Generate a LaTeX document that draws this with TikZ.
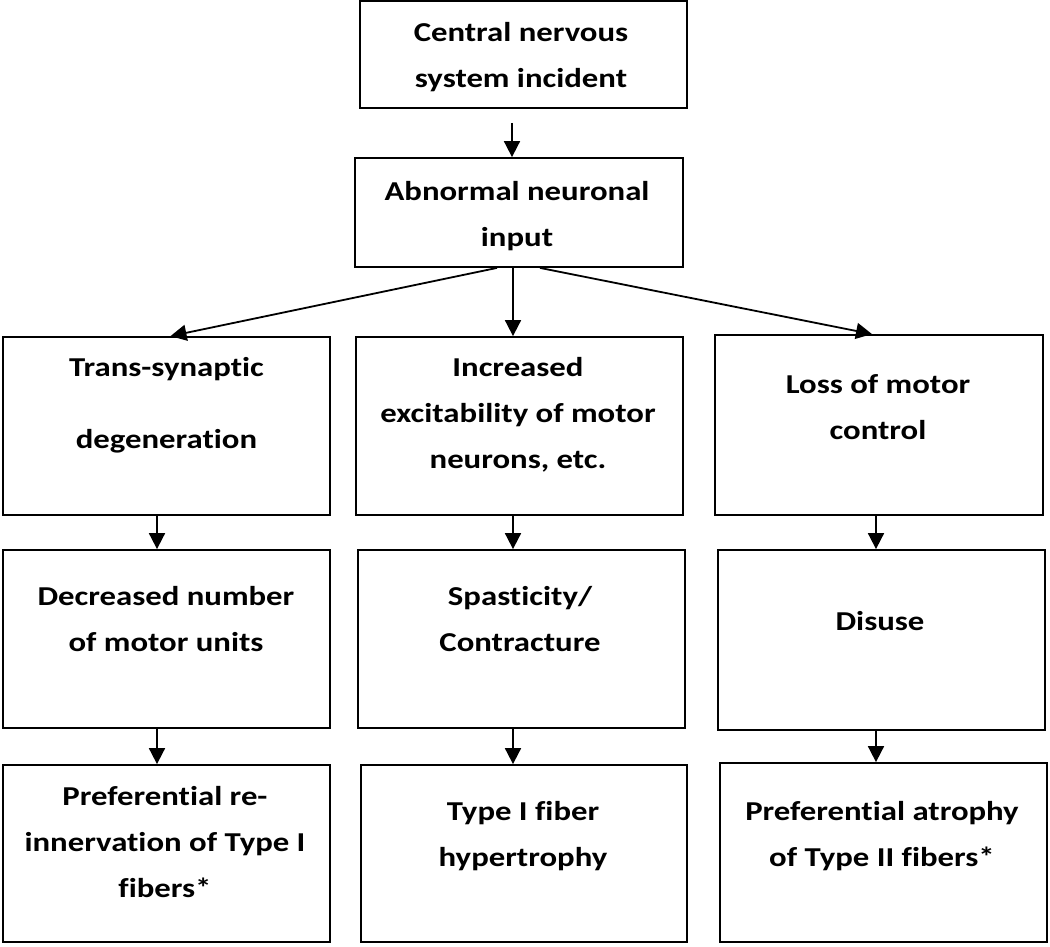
\documentclass[tikz,border=0pt]{standalone}
\usepackage{fontspec}
\setmainfont{Carlito}[FakeStretch=1.2, Ligatures=NoCommon]
\usetikzlibrary{arrows.meta}
\tikzset{
  box/.style={draw, line width=1.8pt, inner sep=0pt, minimum width=327pt, minimum height=178pt},
  txt/.style={anchor=north, inner sep=0pt, align=center, font=\fontsize{27.3}{46}\selectfont\bfseries},
  arr/.style={line width=1.8pt, -{Triangle[width=16pt,length=16pt]}}
}
\newcommand{\fl}{\rule{0pt}{22pt}}
\begin{document}
\begin{tikzpicture}[x=1pt,y=-1pt]
\useasboundingbox (0,0) rectangle (1050,946);
\fill[white] (0,0) rectangle (1050,946);
% boxes
\node[box, minimum height=107pt] (top) at (523.5,54.5) {};
\node[box, minimum width=328pt, minimum height=109pt] (abn) at (519,212.5) {};
\node[box] (r1a) at (166.5,426) {};
\node[box] (r1b) at (519.5,426) {};
\node[box, minimum width=328pt, minimum height=180pt] (r1c) at (879,425) {};
\node[box] (r2a) at (166.5,639) {};
\node[box] (r2b) at (521.5,639) {};
\node[box, minimum height=180pt] (r2c) at (881.5,640) {};
\node[box, minimum height=177pt] (r3a) at (166.5,853.5) {};
\node[box, minimum width=326pt, minimum height=177pt] (r3b) at (524,853.5) {};
\node[box, minimum height=179pt] (r3c) at (883.5,852.5) {};
% texts
\node[txt] (t0) at (521,19) {\fl Central nervous\\system incident};
\node[txt] (t1) at (517,178) {\fl Abnormal neuronal\\input};
\node[txt] (t2) at (166.5,354) {\fl Trans-synaptic\\[26pt]degeneration};
\node[txt] (t3) at (518,354) {\fl Increased\\excitability of motor\\neurons, etc.};
\node[txt] (t4) at (878,371) {\fl Loss of motor\\control};
\node[txt] (t5) at (166,583) {\fl Decreased number\\of motor units};
\node[txt] (t6) at (520,583) {\fl Spasticity/\\Contracture};
\node[txt] (t7) at (880,608) {\fl Disuse};
\node[txt] (t8) at (165,783) {\fl Preferential re-\\innervation of Type I\\fibers*};
\node[txt] (t9) at (523,798) {\fl Type I fiber\\hypertrophy};
\node[txt] (t10) at (882,798) {\fl Preferential atrophy\\of Type II fibers*};
% column coordinates
\coordinate (cT) at (512,0);
\coordinate (cL) at (157,0);
\coordinate (cM) at (513,0);
\coordinate (cR) at (876,0);
% connectors
\draw[arr, shorten <=14pt] (top.south -| cT) -- (abn.north -| cT);
\draw[arr] ([xshift=-22pt]abn.south) -- ([xshift=4pt]r1a.north);
\draw[arr] (abn.south -| cM) -- (r1b.north -| cM);
\draw[arr] ([xshift=21pt]abn.south) -- ([xshift=-7pt]r1c.north);
\draw[arr] (r1a.south -| cL) -- (r2a.north -| cL);
\draw[arr] (r2a.south -| cL) -- (r3a.north -| cL);
\draw[arr] (r1b.south -| cM) -- (r2b.north -| cM);
\draw[arr] (r2b.south -| cM) -- (r3b.north -| cM);
\draw[arr] (r1c.south -| cR) -- (r2c.north -| cR);
\draw[arr] (r2c.south -| cR) -- (r3c.north -| cR);
\end{tikzpicture}
\end{document}
